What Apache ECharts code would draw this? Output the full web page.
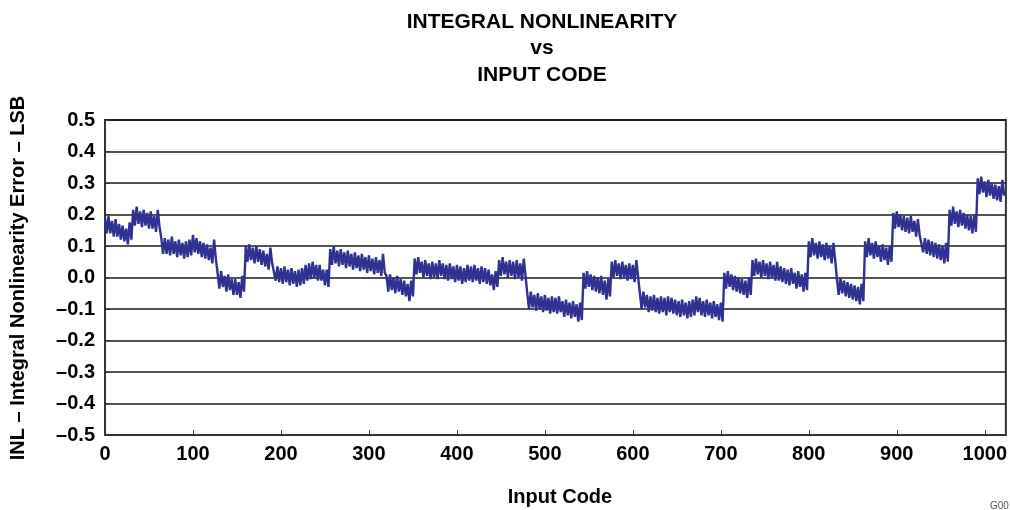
<!DOCTYPE html>
<html>
<head>
<meta charset="utf-8">
<script src="https://cdn.jsdelivr.net/npm/echarts@6/dist/echarts.min.js"></script>
<style>
html,body{margin:0;padding:0;background:#fff;}
#chart{width:1010px;height:510px;}
</style>
</head>
<body>
<div id="chart"></div>
<script>
// Title lines
const titleLines = ['INTEGRAL NONLINEARITY', 'vs', 'INPUT CODE'];
const xAxisName = 'Input Code';
const yAxisName = 'INL \u2013 Integral Nonlinearity Error \u2013 LSB';
const figureId = 'G001';

// X ticks (input code) and Y ticks (LSB)
const xTicks = [0, 100, 200, 300, 400, 500, 600, 700, 800, 900, 1000];
const yTicks = [-0.5, -0.4, -0.3, -0.2, -0.1, 0.0, 0.1, 0.2, 0.3, 0.4, 0.5];

// INL values, one value every 2 codes (codes 0,2,...,1022),
// one row per 32-code segment (alternating upper / lower edge of the noisy band)
const codeStep = 2;
const inl = [
  0.19,0.14,0.195,0.14,0.18,0.13,0.185,0.13,0.17,0.12,0.165,0.115,0.155,0.105,0.175,0.12,
  0.215,0.165,0.225,0.17,0.21,0.16,0.215,0.165,0.205,0.155,0.21,0.155,0.195,0.145,0.215,0.16,
  0.125,0.075,0.125,0.075,0.12,0.07,0.13,0.075,0.115,0.065,0.12,0.07,0.11,0.06,0.115,0.065,
  0.12,0.07,0.135,0.08,0.125,0.075,0.115,0.065,0.11,0.06,0.105,0.055,0.095,0.045,0.12,0.06,
  0.015,-0.035,0.02,-0.03,0.005,-0.045,0.01,-0.04,-0.005,-0.055,-0.005,-0.055,-0.015,-0.065,0.005,-0.045,
  0.1,0.05,0.105,0.055,0.095,0.045,0.1,0.05,0.09,0.04,0.085,0.035,0.075,0.025,0.095,0.045,
  0.04,-0.01,0.035,-0.015,0.03,-0.02,0.035,-0.015,0.025,-0.025,0.03,-0.02,0.02,-0.03,0.025,-0.025,
  0.03,-0.02,0.04,-0.01,0.045,-0.005,0.05,0.0,0.04,-0.01,0.04,-0.01,0.025,-0.025,0.025,-0.03,
  0.09,0.04,0.1,0.045,0.085,0.035,0.09,0.04,0.08,0.03,0.085,0.035,0.075,0.025,0.08,0.03,
  0.07,0.02,0.075,0.025,0.065,0.015,0.07,0.02,0.06,0.01,0.065,0.015,0.055,0.005,0.075,0.015,
  0.005,-0.045,0.01,-0.04,0.0,-0.05,0.005,-0.045,-0.005,-0.055,-0.01,-0.06,-0.02,-0.075,-0.01,-0.06,
  0.06,0.01,0.065,0.015,0.05,0.0,0.055,0.005,0.045,-0.005,0.05,0.0,0.045,-0.005,0.055,0.005,
  0.045,-0.005,0.04,-0.01,0.045,-0.005,0.035,-0.015,0.04,-0.01,0.035,-0.02,0.03,-0.015,0.04,-0.01,
  0.035,-0.015,0.04,-0.01,0.03,-0.02,0.035,-0.015,0.03,-0.02,0.025,-0.025,0.01,-0.04,0.02,-0.03,
  0.055,0.005,0.065,0.01,0.05,0.0,0.055,0.005,0.05,-0.005,0.055,0.0,0.045,-0.01,0.06,0.005,
  -0.05,-0.1,-0.045,-0.095,-0.055,-0.105,-0.05,-0.1,-0.06,-0.11,-0.055,-0.105,-0.065,-0.115,-0.06,-0.11,
  -0.065,-0.115,-0.06,-0.11,-0.075,-0.125,-0.07,-0.12,-0.08,-0.13,-0.075,-0.125,-0.085,-0.14,-0.08,-0.135,
  0.015,-0.035,0.02,-0.03,0.01,-0.04,0.005,-0.045,0.0,-0.05,0.005,-0.055,-0.01,-0.07,-0.005,-0.06,
  0.05,0.0,0.055,0.005,0.045,-0.005,0.05,0.0,0.04,-0.01,0.045,-0.005,0.04,-0.015,0.055,0.0,
  -0.05,-0.1,-0.045,-0.095,-0.055,-0.11,-0.06,-0.105,-0.055,-0.11,-0.065,-0.115,-0.06,-0.11,-0.065,-0.12,
  -0.06,-0.11,-0.065,-0.115,-0.07,-0.12,-0.075,-0.125,-0.07,-0.12,-0.08,-0.13,-0.075,-0.125,-0.07,-0.12,
  -0.06,-0.11,-0.065,-0.12,-0.075,-0.125,-0.07,-0.12,-0.08,-0.13,-0.075,-0.125,-0.085,-0.135,-0.08,-0.14,
  0.015,-0.035,0.02,-0.03,0.01,-0.04,0.005,-0.045,0.0,-0.05,-0.005,-0.055,-0.01,-0.065,0.0,-0.055,
  0.055,0.005,0.06,0.01,0.05,0.0,0.055,0.005,0.045,-0.005,0.05,0.0,0.04,-0.01,0.05,-0.01,
  0.035,-0.015,0.03,-0.02,0.025,-0.025,0.03,-0.02,0.015,-0.035,0.02,-0.03,0.01,-0.045,0.015,-0.04,
  0.115,0.065,0.125,0.07,0.11,0.06,0.115,0.065,0.105,0.055,0.11,0.06,0.1,0.045,0.11,0.055,
  -0.005,-0.055,0.0,-0.05,-0.01,-0.06,-0.015,-0.065,-0.02,-0.07,-0.025,-0.075,-0.03,-0.085,-0.02,-0.075,
  0.115,0.065,0.125,0.07,0.11,0.06,0.115,0.065,0.1,0.05,0.105,0.055,0.095,0.04,0.1,0.05,
  0.205,0.155,0.21,0.16,0.2,0.15,0.195,0.145,0.19,0.14,0.195,0.145,0.18,0.13,0.185,0.135,
  0.13,0.08,0.125,0.075,0.12,0.07,0.115,0.065,0.11,0.06,0.105,0.055,0.1,0.045,0.11,0.05,
  0.215,0.165,0.225,0.17,0.21,0.16,0.215,0.165,0.205,0.155,0.2,0.15,0.195,0.14,0.2,0.145,
  0.315,0.265,0.32,0.27,0.305,0.255,0.31,0.26,0.3,0.25,0.295,0.245,0.29,0.24,0.31,0.26
];

const FONT = '"Liberation Sans", Arial, Helvetica, sans-serif';
const seriesData = inl.map((v, i) => [i * codeStep, v]);

function fmtY(v) {
  const r = Math.round(v * 10) / 10;
  if (yTicks.indexOf(r) < 0) return '';
  return (r < 0 ? '\u2013' : '') + Math.abs(r).toFixed(1);
}
function fmtX(v) {
  return xTicks.indexOf(v) >= 0 ? String(v) : '';
}

const chart = echarts.init(document.getElementById('chart'), null, {renderer: 'canvas'});
chart.setOption({
  animation: false,
  backgroundColor: '#ffffff',
  grid: {
    left: 105, right: 4, top: 120, bottom: 75,
    show: true, borderColor: '#333333', borderWidth: 2, backgroundColor: 'transparent'
  },
  graphic: [
    {type: 'text', x: 542, y: 22, style: {text: titleLines[0], font: 'bold 21px ' + FONT, fill: '#000', textAlign: 'center', textVerticalAlign: 'middle'}},
    {type: 'text', x: 542, y: 48, style: {text: titleLines[1], font: 'bold 21px ' + FONT, fill: '#000', textAlign: 'center', textVerticalAlign: 'middle'}},
    {type: 'text', x: 542, y: 75, style: {text: titleLines[2], font: 'bold 21px ' + FONT, fill: '#000', textAlign: 'center', textVerticalAlign: 'middle'}},
    {type: 'text', x: 560, y: 497, style: {text: xAxisName, font: 'bold 20px ' + FONT, fill: '#000', textAlign: 'center', textVerticalAlign: 'middle'}},
    {type: 'text', x: 18, y: 278, rotation: Math.PI / 2, style: {text: yAxisName, font: 'bold 20px ' + FONT, fill: '#000', textAlign: 'center', textVerticalAlign: 'middle'}},
    {type: 'text', x: 990, y: 506, style: {text: figureId, font: '10px ' + FONT, fill: '#555', textAlign: 'left', textVerticalAlign: 'middle'}}
  ],
  xAxis: {
    type: 'value', min: 0, max: 1024, interval: 100,
    axisLine: {show: true, onZero: false, lineStyle: {color: '#333', width: 2}},
    axisTick: {show: true, inside: true, length: 5, lineStyle: {color: '#333', width: 1}},
    axisLabel: {show: true, margin: 9, showMaxLabel: false, formatter: fmtX,
      fontFamily: FONT, fontWeight: 'bold', fontSize: 20, color: '#000'},
    splitLine: {show: false}
  },
  yAxis: {
    type: 'value', min: -0.5, max: 0.5, interval: 0.1,
    axisLine: {show: true, onZero: false, lineStyle: {color: '#333', width: 2}},
    axisTick: {show: true, inside: true, length: 5, lineStyle: {color: '#333', width: 1}},
    axisLabel: {show: true, margin: 10, formatter: fmtY,
      fontFamily: FONT, fontWeight: 'bold', fontSize: 20, color: '#000'},
    splitLine: {show: true, lineStyle: {color: '#1a1a1a', width: 1.5}}
  },
  series: [{
    type: 'line',
    data: seriesData,
    showSymbol: false,
    symbol: 'none',
    sampling: null,
    lineStyle: {color: '#2e3192', width: 2.4, join: 'miter', miterLimit: 2},
    z: 3
  }]
});
</script>
</body>
</html>
